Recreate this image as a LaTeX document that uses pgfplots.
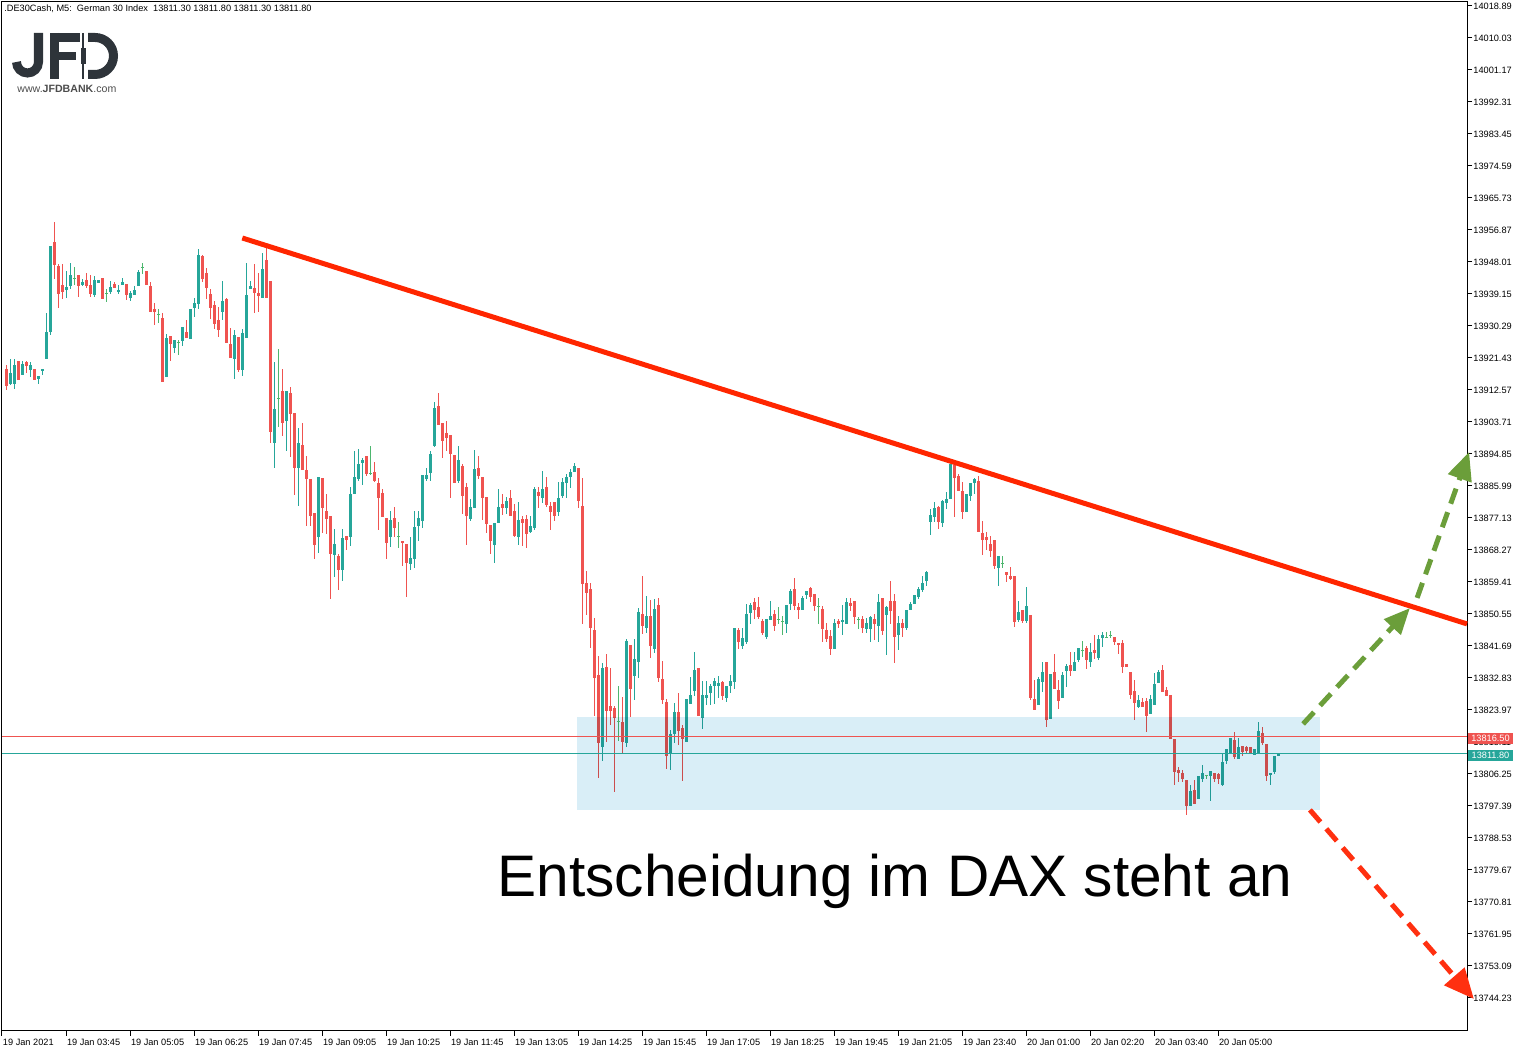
\documentclass[border=0pt]{standalone}
\usepackage{pgfplots}
\pgfplotsset{compat=1.18}
\usepackage{pgfplotstable}
\usepackage{fontspec}
\setmainfont{Liberation Sans}
\usetikzlibrary{arrows.meta}

\definecolor{upcol}{RGB}{38,166,154}
\definecolor{downcol}{RGB}{239,83,80}
\definecolor{dojicol}{RGB}{77,182,110}
\definecolor{trendred}{RGB}{255,38,0}
\definecolor{boxblue}{RGB}{217,238,247}
\definecolor{arrgreen}{RGB}{107,158,58}
\definecolor{arrred}{RGB}{255,48,16}
\definecolor{logocol}{RGB}{46,52,58}

% x = bar index, o h l c
\pgfplotstableread{
x o h l c
1 13914.3 13921.3 13914.0 13917.4
2 13914.3 13921.3 13912.8 13919.5
4 13916.8 13920.6 13916.8 13920.0
6 13918.2 13920.6 13916.3 13919.5
8 13915.7 13916.4 13914.3 13916.4
9 13917.9 13918.4 13916.7 13918.4
10 13921.2 13933.9 13921.2 13928.6
11 13928.6 13952.4 13927.8 13952.4
15 13940.3 13945.5 13937.9 13941.0
16 13941.4 13948.0 13940.7 13944.4
19 13941.6 13943.2 13941.4 13942.6
22 13939.0 13944.1 13938.4 13943.0
23 13942.3 13943.0 13942.3 13943.0
26 13939.7 13943.0 13939.3 13941.0
28 13939.7 13941.6 13939.2 13940.4
29 13941.6 13943.6 13941.6 13942.6
31 13937.9 13940.0 13937.3 13939.3
32 13938.9 13941.5 13938.9 13940.4
33 13941.4 13946.0 13941.4 13945.5
40 13916.3 13928.1 13916.3 13927.0
42 13924.3 13926.4 13922.9 13926.4
44 13926.2 13930.0 13924.8 13930.0
46 13926.8 13935.0 13926.8 13935.0
47 13935.3 13938.0 13932.9 13936.8
48 13936.5 13951.6 13935.0 13950.0
54 13934.3 13942.8 13932.0 13937.2
57 13921.2 13929.2 13915.7 13927.8
59 13918.2 13929.4 13916.5 13928.3
60 13927.1 13947.7 13927.1 13938.9
61 13940.6 13942.8 13940.6 13941.4
64 13938.1 13950.6 13938.1 13946.3
67 13898.0 13920.3 13891.1 13907.3
70 13904.0 13912.3 13895.9 13912.3
73 13891.1 13902.2 13880.5 13897.9
78 13872.0 13888.5 13867.3 13888.5
82 13867.0 13874.1 13860.9 13869.9
84 13862.8 13874.1 13859.8 13871.6
86 13872.0 13885.9 13869.5 13884.0
87 13883.9 13895.8 13883.9 13888.5
88 13888.2 13896.4 13887.6 13892.1
89 13892.4 13893.9 13886.3 13893.3
96 13872.0 13879.2 13869.2 13876.7
101 13864.5 13872.1 13862.7 13866.0
102 13865.9 13879.2 13863.4 13874.7
103 13875.0 13879.2 13870.9 13877.2
104 13876.4 13889.0 13874.5 13889.0
105 13888.0 13890.9 13887.5 13889.0
106 13889.5 13895.9 13887.5 13895.0
107 13897.2 13909.4 13896.7 13907.6
113 13887.5 13897.1 13886.9 13893.2
116 13877.0 13882.6 13876.4 13880.4
117 13880.0 13895.9 13880.0 13890.9
122 13869.7 13875.9 13864.8 13875.9
123 13875.8 13885.2 13875.8 13880.2
125 13880.0 13883.0 13878.4 13882.1
128 13872.0 13881.6 13869.7 13876.5
131 13873.4 13877.9 13873.1 13875.0
132 13874.4 13885.7 13873.8 13885.1
134 13882.8 13890.1 13881.4 13885.2
138 13878.9 13887.1 13877.8 13882.9
139 13883.3 13888.2 13882.8 13887.1
140 13886.9 13889.3 13882.8 13888.5
141 13888.7 13890.7 13885.5 13890.1
142 13889.9 13892.6 13889.9 13891.5
149 13813.8 13837.0 13809.9 13835.6
155 13814.9 13843.6 13813.8 13843.1
157 13833.4 13843.6 13826.8 13838.1
158 13837.2 13852.2 13832.8 13851.1
160 13846.7 13855.5 13845.4 13850.0
162 13841.0 13854.7 13839.8 13852.0
166 13812.3 13818.4 13807.4 13817.6
167 13817.3 13825.9 13814.9 13823.4
170 13815.2 13827.0 13815.2 13827.0
171 13825.7 13833.1 13825.7 13828.4
172 13829.3 13840.0 13827.9 13835.0
174 13821.8 13832.0 13818.8 13828.1
175 13827.4 13832.0 13825.4 13828.1
176 13828.8 13831.2 13825.5 13830.6
177 13830.7 13833.1 13825.8 13832.0
178 13830.7 13833.6 13827.4 13831.4
180 13827.4 13830.6 13826.3 13830.6
181 13830.7 13833.6 13828.8 13832.0
182 13831.8 13846.7 13829.9 13846.7
184 13841.8 13846.7 13841.0 13843.9
185 13842.9 13853.6 13842.3 13850.6
186 13850.8 13853.6 13847.9 13853.0
190 13844.3 13849.4 13843.7 13849.4
191 13849.0 13854.1 13849.0 13850.0
195 13847.9 13853.0 13845.4 13853.0
196 13853.3 13857.5 13851.7 13856.9
199 13851.7 13855.5 13851.7 13855.0
200 13855.8 13856.9 13854.8 13856.9
207 13840.9 13849.4 13840.9 13848.0
209 13848.3 13853.0 13844.8 13849.0
210 13847.9 13855.0 13847.9 13854.1
215 13846.5 13849.4 13845.4 13848.0
216 13846.5 13850.0 13842.9 13850.0
218 13847.3 13856.1 13842.9 13854.1
220 13850.4 13852.8 13839.3 13852.5
223 13844.7 13850.0 13840.6 13848.0
225 13846.9 13851.7 13846.2 13851.7
226 13851.7 13854.1 13851.7 13853.3
227 13853.4 13855.8 13853.4 13855.8
228 13855.3 13858.0 13854.8 13857.5
229 13857.3 13861.1 13856.5 13859.1
230 13859.8 13862.5 13858.4 13862.2
231 13876.1 13879.6 13872.6 13877.9
232 13877.5 13881.6 13876.1 13879.9
234 13875.8 13882.1 13874.7 13881.8
235 13881.4 13884.3 13879.7 13882.4
236 13882.5 13892.3 13882.5 13892.1
240 13878.9 13883.9 13878.9 13883.9
241 13883.3 13886.8 13881.9 13886.8
242 13886.8 13888.2 13883.9 13887.9
248 13863.4 13866.6 13858.4 13866.6
253 13848.9 13854.2 13848.4 13851.1
255 13848.6 13858.0 13848.0 13852.8
258 13825.4 13833.2 13825.3 13832.5
259 13831.7 13837.3 13829.0 13834.5
261 13821.7 13834.2 13821.7 13834.2
264 13827.4 13834.5 13827.4 13833.7
265 13834.8 13836.7 13830.4 13836.2
267 13834.8 13840.0 13834.8 13837.5
268 13837.8 13841.1 13837.3 13841.1
271 13837.3 13842.5 13835.9 13840.0
273 13838.4 13844.7 13837.9 13843.6
274 13844.0 13845.6 13841.5 13844.7
283 13824.8 13828.3 13824.8 13826.7
286 13822.9 13828.1 13822.9 13827.0
287 13825.4 13834.2 13825.4 13831.2
288 13831.5 13835.0 13831.5 13834.5
296 13797.4 13803.2 13797.4 13801.5
298 13799.3 13805.7 13799.3 13805.7
299 13804.9 13808.7 13804.0 13806.5
301 13805.7 13807.1 13798.8 13807.1
304 13803.2 13812.1 13803.2 13809.6
305 13809.8 13813.2 13809.0 13813.2
306 13812.2 13816.2 13811.8 13816.2
308 13810.5 13816.2 13810.5 13813.7
312 13811.5 13813.2 13811.5 13813.2
313 13811.9 13820.6 13811.9 13818.1
316 13806.0 13806.4 13803.2 13806.4
317 13806.8 13811.2 13806.3 13811.2
318 13811.3 13811.8 13811.3 13811.8
}\up

\pgfplotstableread{
x o h l c
0 13918.3 13919.5 13912.8 13913.8
3 13920.6 13920.6 13915.4 13915.4
5 13920.6 13920.6 13917.4 13919.3
7 13918.4 13918.4 13915.4 13915.4
12 13953.5 13959.1 13943.4 13947.2
13 13946.9 13947.5 13935.4 13939.3
14 13941.5 13947.5 13937.9 13939.7
18 13944.4 13944.4 13938.4 13941.4
20 13943.0 13945.0 13940.9 13941.4
21 13941.9 13944.4 13938.4 13939.2
24 13943.6 13943.6 13937.9 13937.9
27 13941.9 13942.5 13940.8 13940.8
30 13941.9 13941.9 13937.5 13939.0
35 13945.5 13945.5 13941.6 13941.6
36 13941.6 13942.5 13934.3 13934.3
37 13935.0 13936.8 13930.8 13934.3
39 13932.6 13933.8 13914.9 13914.9
41 13927.5 13927.5 13920.7 13925.3
45 13928.9 13932.0 13927.2 13927.2
49 13949.7 13950.0 13942.6 13943.3
50 13945.0 13946.5 13937.9 13941.0
51 13939.3 13940.6 13932.2 13935.4
52 13936.1 13937.3 13929.4 13930.8
53 13932.0 13935.6 13927.3 13929.2
55 13937.8 13938.2 13925.7 13925.7
56 13925.3 13929.9 13921.5 13921.5
58 13927.3 13927.3 13917.6 13918.1
62 13940.7 13947.5 13933.8 13939.3
63 13939.7 13945.0 13934.3 13938.7
65 13948.8 13952.0 13938.1 13938.1
66 13942.7 13942.7 13898.0 13901.0
69 13912.3 13918.4 13900.1 13903.5
71 13911.7 13913.5 13894.1 13906.0
72 13906.2 13906.2 13883.5 13891.1
74 13897.3 13903.5 13890.4 13890.6
75 13890.4 13894.3 13875.0 13888.1
76 13888.1 13888.1 13875.0 13877.8
77 13878.5 13878.5 13865.8 13869.7
79 13888.2 13888.2 13872.9 13880.0
80 13879.1 13884.0 13872.9 13876.9
81 13877.7 13877.7 13854.7 13867.3
83 13866.6 13867.3 13857.3 13862.8
85 13872.1 13872.1 13868.5 13870.9
90 13894.2 13894.2 13888.8 13889.4
92 13890.1 13892.6 13887.0 13887.5
93 13887.0 13888.4 13874.0 13882.7
94 13884.1 13885.2 13877.5 13877.5
95 13877.1 13877.1 13865.8 13870.3
97 13877.1 13880.3 13872.0 13874.4
99 13871.0 13871.0 13863.9 13870.3
100 13869.9 13869.9 13855.3 13864.8
108 13908.2 13911.7 13902.9 13902.9
109 13903.7 13903.7 13893.8 13898.7
110 13900.7 13904.0 13895.8 13899.4
111 13900.1 13900.1 13882.7 13894.9
112 13894.5 13894.5 13886.9 13886.9
114 13891.5 13892.1 13878.4 13883.3
115 13885.7 13886.9 13869.8 13877.7
118 13890.9 13894.5 13888.0 13888.8
119 13888.5 13888.5 13876.6 13882.7
120 13882.9 13882.9 13872.9 13875.4
121 13875.2 13875.2 13867.2 13870.9
124 13881.0 13883.9 13878.0 13880.0
126 13882.7 13885.1 13877.9 13877.9
127 13879.0 13881.2 13872.0 13872.3
129 13877.0 13877.9 13869.5 13875.8
130 13877.0 13877.9 13869.0 13872.9
133 13884.6 13885.8 13880.0 13883.3
135 13885.7 13888.5 13880.3 13880.8
136 13880.5 13881.6 13873.8 13878.9
137 13881.6 13881.6 13876.4 13877.8
143 13891.0 13891.0 13880.0 13881.9
144 13880.4 13888.2 13847.9 13858.9
145 13859.1 13862.5 13850.4 13856.5
146 13857.5 13859.1 13841.2 13846.8
147 13846.1 13849.4 13822.4 13832.8
148 13833.6 13838.9 13805.2 13814.9
150 13836.1 13839.5 13815.2 13823.8
151 13825.1 13835.6 13819.9 13823.8
152 13824.5 13825.1 13801.3 13821.8
154 13820.9 13827.6 13811.9 13815.2
156 13842.0 13842.0 13821.9 13829.9
159 13850.6 13861.1 13845.0 13847.2
161 13850.0 13854.4 13838.5 13841.8
163 13853.0 13855.0 13831.8 13832.8
164 13832.5 13837.5 13825.8 13826.8
165 13826.4 13826.9 13807.7 13811.5
168 13823.4 13828.9 13814.5 13818.3
169 13819.0 13820.1 13804.4 13816.1
173 13835.6 13835.6 13822.4 13822.4
179 13832.0 13832.0 13826.8 13827.9
183 13846.1 13846.7 13841.0 13842.9
187 13854.1 13855.2 13849.2 13851.7
188 13852.5 13855.5 13849.2 13849.8
189 13848.6 13849.2 13844.7 13845.3
192 13850.6 13851.7 13845.8 13847.3
197 13857.5 13860.5 13851.7 13852.8
198 13852.5 13853.6 13849.2 13851.7
201 13858.0 13858.0 13853.9 13855.3
202 13856.1 13856.1 13851.4 13852.8
204 13851.9 13853.0 13842.9 13846.5
205 13846.1 13848.0 13842.9 13843.7
206 13844.4 13846.1 13839.3 13840.9
208 13848.7 13849.4 13846.8 13847.9
211 13853.6 13855.0 13851.4 13852.8
212 13854.1 13854.1 13847.9 13849.8
214 13849.4 13850.0 13845.4 13846.8
217 13849.2 13850.6 13843.4 13847.9
219 13855.0 13855.0 13844.8 13845.8
221 13854.1 13859.9 13847.9 13851.4
222 13854.1 13856.1 13837.1 13844.3
224 13848.0 13849.4 13844.3 13846.8
233 13880.2 13880.4 13874.2 13876.1
237 13892.0 13892.3 13877.5 13888.3
238 13888.8 13889.5 13884.7 13884.7
239 13884.6 13887.2 13876.8 13878.9
243 13887.4 13889.0 13873.3 13873.3
244 13873.2 13876.3 13867.0 13871.1
245 13871.9 13873.5 13868.4 13871.1
246 13870.2 13872.1 13866.4 13868.1
247 13871.0 13871.0 13863.2 13863.8
250 13862.2 13862.2 13859.5 13861.4
251 13861.2 13863.7 13860.0 13860.2
252 13861.2 13861.2 13847.0 13848.4
254 13851.7 13851.7 13848.1 13848.6
256 13850.5 13850.5 13826.7 13827.4
257 13827.0 13832.3 13824.0 13824.2
260 13837.3 13837.3 13819.4 13821.2
262 13834.5 13839.7 13829.9 13829.9
263 13829.5 13832.5 13824.3 13826.5
266 13836.7 13840.0 13833.5 13834.8
270 13841.1 13841.7 13835.4 13837.8
272 13840.6 13844.7 13838.2 13839.8
277 13844.2 13844.2 13842.0 13842.9
278 13842.5 13842.5 13839.6 13842.1
279 13842.5 13843.6 13834.3 13835.9
280 13836.7 13836.7 13835.9 13835.9
281 13834.5 13834.5 13827.2 13828.4
282 13829.2 13832.3 13821.2 13826.0
284 13826.2 13827.3 13824.8 13824.8
285 13826.4 13827.3 13817.9 13822.3
289 13835.0 13836.7 13829.0 13829.0
290 13829.5 13830.4 13827.9 13827.9
291 13828.1 13828.1 13816.1 13816.1
292 13815.9 13815.9 13803.2 13806.8
293 13807.6 13808.2 13804.1 13806.8
294 13806.5 13807.4 13804.0 13804.9
295 13804.6 13804.6 13794.9 13797.4
297 13802.1 13804.6 13798.2 13798.2
302 13806.5 13806.5 13804.0 13804.9
303 13806.4 13806.4 13803.5 13804.9
307 13815.7 13818.1 13810.5 13811.0
309 13814.0 13814.0 13811.2 13812.4
310 13814.0 13814.0 13811.8 13812.9
311 13813.7 13813.7 13811.9 13811.9
314 13817.6 13819.5 13814.4 13814.9
315 13814.6 13814.6 13804.4 13805.7
}\down

\pgfplotstableread{
x o h l c
17 13943.5 13946.6 13941.6 13943.5
25 13939.3 13940.4 13936.8 13939.3
34 13946.5 13948.0 13944.7 13946.5
38 13933.6 13935.0 13931.2 13933.6
43 13925.6 13926.4 13922.3 13925.6
68 13910.3 13924.1 13902.4 13910.3
91 13889.4 13897.1 13889.0 13889.4
98 13872.0 13876.0 13868.9 13872.0
153 13820.8 13830.6 13815.3 13820.8
193 13849.0 13852.5 13847.9 13849.0
194 13848.6 13850.0 13844.8 13848.6
203 13852.5 13855.0 13847.9 13852.5
213 13849.0 13849.8 13846.5 13849.0
249 13864.6 13866.6 13863.2 13864.6
269 13840.4 13843.1 13838.7 13840.4
275 13844.1 13845.6 13844.0 13844.1
276 13844.5 13846.1 13844.0 13844.5
300 13805.7 13806.2 13805.1 13805.7
}\doji

\newcommand{\wicks}[2]{%
  \addplot[draw=none, no markers, forget plot,
    error bars/.cd, y dir=both, y explicit, error mark=none,
    error bar style={draw=#2, line width=0.5pt}]
    table[x=x, y expr={(\thisrow{h}+\thisrow{l})/2},
          y error expr={(\thisrow{h}-\thisrow{l})/2}] {#1};}
\newcommand{\bodies}[2]{%
  \addplot[draw=none, no markers, forget plot,
    error bars/.cd, y dir=both, y explicit, error mark=none,
    error bar style={draw=#2, line width=1.5pt}]
    table[x=x, y expr={(\thisrow{o}+\thisrow{c})/2},
          y error expr={max(abs(\thisrow{c}-\thisrow{o})/2,0.15)}] {#1};}

\begin{document}
\begin{tikzpicture}
\useasboundingbox (-1pt,-10.5pt) rectangle (761.5pt,515.5pt);
\begin{axis}[
  at={(0pt,0pt)}, anchor=south west,
  scale only axis, width=732.5pt, height=514.5pt,
  xmin=-1.075, xmax=365.175, ymin=13735.09, ymax=14020.0,
  clip=false,
  axis line style={line width=0.5pt, black},
  tick style={line width=0.5pt, black},
  tick align=outside, major tick length=2.5pt,
  xtick pos=left, ytick pos=right, yticklabel pos=right,
  xtick={-1.075,14.925,30.925,46.925,62.925,78.925,94.925,110.925,126.925,142.925,158.925,174.925,190.925,206.925,222.925,238.925,254.925,270.925,286.925,302.925},
  xticklabels={19 Jan 2021,19 Jan 03:45,19 Jan 05:05,19 Jan 06:25,19 Jan 07:45,19 Jan 09:05,19 Jan 10:25,19 Jan 11:45,19 Jan 13:05,19 Jan 14:25,19 Jan 15:45,19 Jan 17:05,19 Jan 18:25,19 Jan 19:45,19 Jan 21:05,19 Jan 23:40,20 Jan 01:00,20 Jan 02:20,20 Jan 03:40,20 Jan 05:00},
  ytick={14018.89,14010.03,14001.17,13992.31,13983.45,13974.59,13965.73,13956.87,13948.01,13939.15,13930.29,13921.43,13912.57,13903.71,13894.85,13885.99,13877.13,13868.27,13859.41,13850.55,13841.69,13832.83,13823.97,13815.11,13806.25,13797.39,13788.53,13779.67,13770.81,13761.95,13753.09,13744.23},
  yticklabels={14018.89,14010.03,14001.17,13992.31,13983.45,13974.59,13965.73,13956.87,13948.01,13939.15,13930.29,13921.43,13912.57,13903.71,13894.85,13885.99,13877.13,13868.27,13859.41,13850.55,13841.69,13832.83,13823.97,13815.11,13806.25,13797.39,13788.53,13779.67,13770.81,13761.95,13753.09,13744.23},
  tick label style={font=\fontsize{4.6}{5.5}\selectfont},
  xticklabel style={anchor=north west, inner sep=0pt, xshift=0.3pt, yshift=-1.2pt},
  yticklabel style={anchor=west, inner sep=0pt, xshift=0.5pt},
]
\wicks{\up}{upcol}
\wicks{\down}{downcol}
\wicks{\doji}{dojicol}
\bodies{\up}{upcol}
\bodies{\down}{downcol}
\addplot[only marks, mark=-, mark size=0.8pt, color=dojicol, mark options={line width=0.5pt}, forget plot] table[x=x, y=o] {\doji};

% support zone
\addplot[fill=boxblue, draw=none, no markers, blend mode=multiply, forget plot] coordinates {(142.75,13796.3) (328.4,13796.3) (328.4,13822.1) (142.75,13822.1)} -- cycle;

% price lines
\addplot[downcol, line width=0.5pt, no markers, forget plot] coordinates {(-1.075,13816.5) (365.175,13816.5)};
\addplot[upcol, line width=0.5pt, no markers, forget plot] coordinates {(-1.075,13811.8) (365.175,13811.8)};

% trend line
\addplot[trendred, line width=2.5pt, no markers, forget plot] coordinates {(59.0,13954.65) (365.175,13847.8)};

% scenario arrows
\addplot[arrgreen, line width=2.5pt, no markers, dash pattern=on 8pt off 4.5pt, -{Triangle[length=13pt,width=11pt]}, forget plot] coordinates {(324.2,13820.1) (350.9,13852.2)};
\addplot[arrgreen, line width=2.5pt, no markers, dash pattern=on 8pt off 4.5pt, -{Triangle[length=14pt,width=12pt]}, forget plot] coordinates {(352.7,13855.0) (365.7,13895.4)};
\addplot[arrred, line width=2.5pt, no markers, dash pattern=on 8pt off 4.5pt, -{Triangle[length=15pt,width=13pt]}, forget plot] coordinates {(325.9,13796.3) (366.9,13743.95)};
\end{axis}

\begin{scope}[x=0.5pt, y=-0.5pt, shift={(-1pt,515.5pt)}]
  % header
  \node[anchor=west, fill=white, inner xsep=1pt, inner ysep=1.5pt, font=\fontsize{4.6}{5.5}\selectfont] at (2,9)
    {.DE30Cash, M5:\ \ German 30 Index\ \ 13811.30 13811.80 13811.30 13811.80};
  % logo
  \draw[logocol, line width=4.5pt] (38.5,33) -- (38.5,62) arc[start angle=0, end angle=180, radius=11];
  \draw[logocol, line width=4.5pt] (54.5,33) -- (54.5,79.5);
  \draw[logocol, line width=4.5pt] (50,37.5) -- (80,37.5);
  \draw[logocol, line width=4pt] (50,56) -- (76,56);
  \draw[logocol, line width=0.8pt] (83,33) -- (83,79.5);
  \fill[logocol] (80.5,48) rectangle (85.5,64);
  \draw[logocol, line width=4.5pt] (88,37.5) -- (95,37.5) arc[start angle=-90, end angle=90, radius=18.5] -- (88,74.5);
  \node[anchor=west, inner sep=0pt, text=black!70, font=\fontsize{5.3}{6}\selectfont] at (17,89) {www.\textbf{JFDBANK}.com};
  % headline
  \node[anchor=base, inner sep=0pt, font=\fontsize{29.3}{34}\selectfont] at (895,897) {Entscheidung im DAX steht an};
  % price labels on the scale
  \fill[downcol] (1468,733) rectangle (1513,744);
  \node[text=white, inner sep=0pt, font=\fontsize{4.6}{5.5}\selectfont] at (1490.5,738.5) {13816.50};
  \fill[upcol] (1468,750) rectangle (1513,761);
  \node[text=white, inner sep=0pt, font=\fontsize{4.6}{5.5}\selectfont] at (1490.5,755.5) {13811.80};
\end{scope}
\end{tikzpicture}
\end{document}
